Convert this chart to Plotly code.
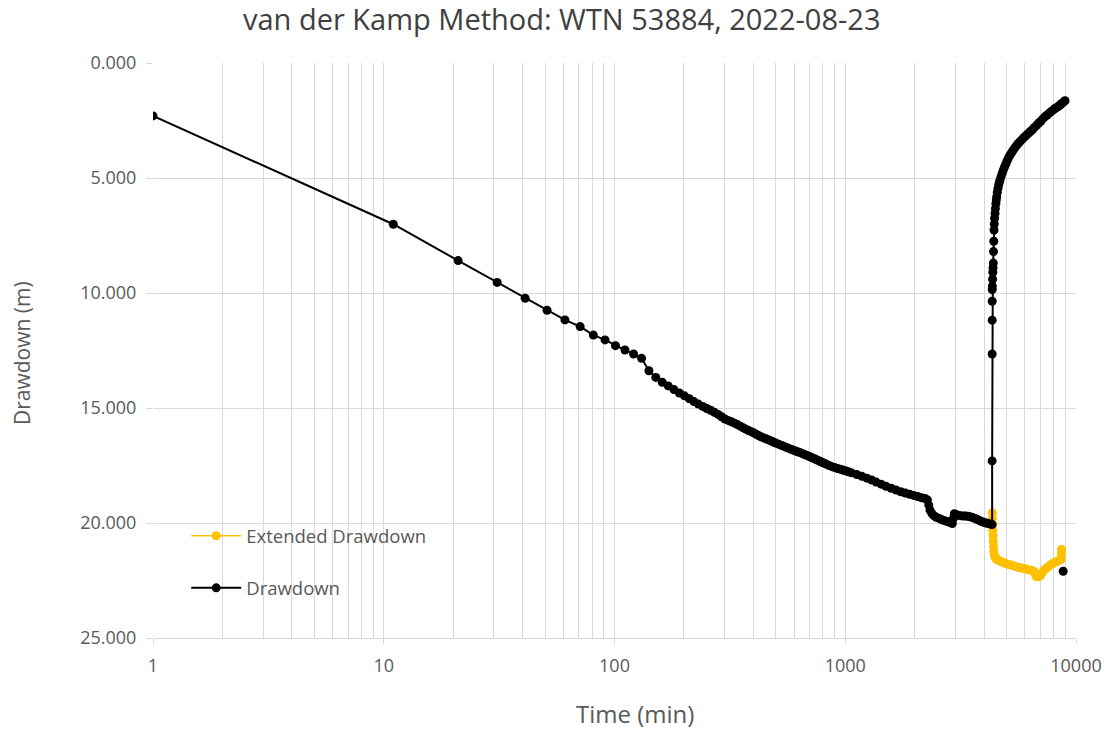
import plotly.graph_objects as go

# ---- data ----
pump_time = [1, 11, 21, 31, 41, 51, 61, 71, 81, 91, 101, 111, 121, 131, 141, 151, 161, 171, 181, 191,
             201, 211, 221, 231, 241, 251, 261, 271, 281, 291,
             301, 311, 321, 331, 341, 351, 361, 371, 381, 391, 401, 411, 421, 431, 441, 451, 461, 471,
             481, 491, 501, 516, 531, 546, 561, 576, 591, 606, 621, 636, 651, 666, 681, 696, 711, 726,
             741, 756, 771, 786, 801, 826, 851, 876, 901, 926, 951, 976, 1001, 1031, 1061,
             1121, 1181, 1241, 1301, 1361, 1431, 1501, 1581, 1661, 1741, 1821, 1901, 1981, 2061, 2141,
             2221, 2271, 2301, 2331, 2371, 2421, 2481, 2551, 2621, 2701, 2781, 2861, 2911, 2941, 2971,
             3021, 3081, 3161, 3241, 3321, 3401, 3481, 3561, 3641, 3721, 3801, 3881, 3961, 4041, 4121,
             4201, 4281, 4330]
pump_drawdown = [2.30, 7.01, 8.59, 9.54, 10.23, 10.75, 11.17, 11.46, 11.83, 12.04, 12.29, 12.48, 12.65,
                 12.84, 13.38, 13.67, 13.88, 14.04, 14.20, 14.35, 14.47, 14.60, 14.72, 14.83, 14.93,
                 15.02, 15.10, 15.19, 15.28, 15.38,
                 15.48, 15.54, 15.60, 15.66, 15.72, 15.79, 15.86, 15.92, 15.98, 16.03, 16.08, 16.14,
                 16.20, 16.25, 16.29, 16.33, 16.37, 16.41, 16.45, 16.49, 16.53, 16.58, 16.63, 16.68,
                 16.73, 16.78, 16.82, 16.86, 16.90, 16.94, 16.98, 17.02, 17.06, 17.10, 17.14, 17.18,
                 17.22, 17.26, 17.30, 17.34, 17.38, 17.44, 17.50, 17.55, 17.59, 17.63, 17.66, 17.70,
                 17.73, 17.77, 17.81,
                 17.89, 17.97, 18.05, 18.13, 18.22, 18.31, 18.40, 18.49, 18.57, 18.64, 18.70, 18.75,
                 18.80, 18.85, 18.90, 18.94, 19.00, 19.22, 19.45, 19.58, 19.68, 19.75, 19.80, 19.86,
                 19.90, 19.95, 19.98, 20.02, 19.80, 19.60, 19.64, 19.66, 19.68, 19.70, 19.70, 19.71,
                 19.73, 19.76, 19.80, 19.84, 19.88, 19.93, 19.96, 19.99, 20.01, 20.03, 20.05, 20.07]

recovery_time = [4331, 4332, 4333, 4334, 4335, 4340, 4350, 4360, 4370, 4382, 4392, 4402, 4413, 4425,
                 4440, 4457, 4475, 4495, 4515, 4532, 4560, 4590, 4625, 4655, 4685, 4730, 4785, 4841,
                 4900, 4960, 5020, 5089, 5150, 5220, 5290, 5350, 5440, 5530, 5620, 5717, 5830, 5950,
                 6080, 6216, 6340, 6470, 6610, 6755, 6900, 7050, 7200, 7340, 7500, 7650, 7810, 7975,
                 8110, 8250, 8390, 8525, 8670, 8820, 8962]
recovery_drawdown = [17.30, 12.65, 11.18, 10.36, 9.85, 9.70, 9.40, 9.10, 8.90, 8.70, 8.20, 7.75, 7.26,
                     7.00, 6.75, 6.54, 6.33, 6.12, 5.95, 5.81, 5.62, 5.45, 5.30, 5.18, 5.09, 4.95,
                     4.80, 4.65, 4.52, 4.40, 4.27, 4.14, 4.04, 3.95, 3.86, 3.78, 3.68, 3.58, 3.50,
                     3.42, 3.33, 3.24, 3.15, 3.06, 2.98, 2.90, 2.80, 2.70, 2.61, 2.52, 2.42, 2.33,
                     2.26, 2.18, 2.11, 2.04, 1.98, 1.93, 1.88, 1.83, 1.76, 1.70, 1.64]

final_time = [8800]
final_drawdown = [22.10]

extended_time = [4340, 4345, 4352, 4360, 4370, 4380, 4392, 4405, 4425, 4450, 4480, 4520, 4570, 4630,
                 4700, 4780, 4870, 4960, 5060, 5160, 5270, 5390, 5510, 5630, 5760, 5890, 6020, 6160,
                 6300, 6440, 6570, 6660, 6730, 6810, 6900, 7000, 7100, 7200, 7340, 7480, 7620, 7760,
                 7900, 8050, 8200, 8350, 8500, 8620, 8640, 8650]
extended_drawdown = [19.55, 19.80, 20.05, 20.30, 20.55, 20.80, 21.02, 21.22, 21.38, 21.47, 21.53,
                     21.57, 21.60, 21.63, 21.66, 21.70, 21.73, 21.76, 21.79, 21.82, 21.84, 21.87,
                     21.90, 21.93, 21.95, 21.97, 21.99, 22.02, 22.04, 22.06, 22.10, 22.22, 22.33,
                     22.30, 22.33, 22.30, 22.20, 22.10, 22.02, 21.95, 21.88, 21.82, 21.77, 21.72,
                     21.68, 21.65, 21.62, 21.58, 21.35, 21.15]

x_tick_vals = [1, 10, 100, 1000, 10000]
x_tick_text = ["1", "10", "100", "1000", "10000"]
y_tick_vals = [0, 5, 10, 15, 20, 25]

# ---- figure ----
GRID = "#d9d9d9"
TXT = "#595959"
FONT = "Open Sans"
L, R, T, B = 153, 1076, 63, 638
PW, PH = R - L, B - T

drawdown_x = pump_time + recovery_time + [None] + final_time
drawdown_y = pump_drawdown + recovery_drawdown + [None] + final_drawdown

fig = go.Figure()
fig.add_trace(go.Scatter(
    x=extended_time, y=extended_drawdown, mode="lines+markers", name="Extended Drawdown",
    line=dict(color="#FFC000", width=1.5), marker=dict(color="#FFC000", size=9),
    legendgroup="a"))
fig.add_trace(go.Scatter(
    x=drawdown_x, y=drawdown_y, mode="lines+markers", name="Drawdown",
    line=dict(color="#000000", width=2), marker=dict(color="#000000", size=9),
    connectgaps=False, legendgroup="b"))

fig.update_layout(
    width=1108, height=730,
    margin=dict(l=L, r=1108 - R, t=T, b=730 - B, autoexpand=False),
    paper_bgcolor="white", plot_bgcolor="white",
    font=dict(family=FONT, color=TXT, size=18),
    title=dict(text="van der Kamp Method: WTN 53884, 2022-08-23",
               font=dict(family=FONT, size=29, color="#404040"),
               x=0.507, xanchor="center", y=0.973, yanchor="middle", xref="container", yref="container"),
    showlegend=True,
    legend=dict(x=0.036, y=0.21, xanchor="left", yanchor="top",
                font=dict(family=FONT, size=18.5, color=TXT),
                bgcolor="rgba(0,0,0,0)", itemwidth=50, tracegroupgap=25,
                traceorder="grouped"),
    xaxis=dict(type="log", range=[0, 4], tickvals=x_tick_vals, ticktext=x_tick_text,
               showgrid=True, gridcolor=GRID, gridwidth=1,
               minor=dict(dtick="D1", showgrid=True, gridcolor=GRID, gridwidth=1, ticks=""),
               showline=True, linecolor=GRID, linewidth=1,
               ticks="outside", ticklen=5, tickcolor=GRID,
               tickfont=dict(family=FONT, size=18, color=TXT), ticklabelstandoff=6,
               zeroline=False, automargin=False),
    yaxis=dict(range=[25, 0], tickvals=y_tick_vals, tickformat=".3f",
               showgrid=True, gridcolor=GRID, gridwidth=1,
               ticks="outside", ticklen=6, tickcolor=GRID,
               showline=False, zeroline=False, automargin=False,
               tickfont=dict(family=FONT, size=18, color=TXT), ticklabelstandoff=6),
    annotations=[
        dict(text="Time (min)", x=(635 - L) / PW, y=-(713 - B) / PH, xref="paper", yref="paper",
             xanchor="center", yanchor="middle", showarrow=False,
             font=dict(family=FONT, size=24, color=TXT)),
        dict(text="Drawdown (m)", x=(22 - L) / PW, y=(B - 353) / PH, xref="paper", yref="paper",
             xanchor="center", yanchor="middle", showarrow=False, textangle=-90,
             font=dict(family=FONT, size=21, color=TXT)),
    ],
)

fig.write_html("out.html")
